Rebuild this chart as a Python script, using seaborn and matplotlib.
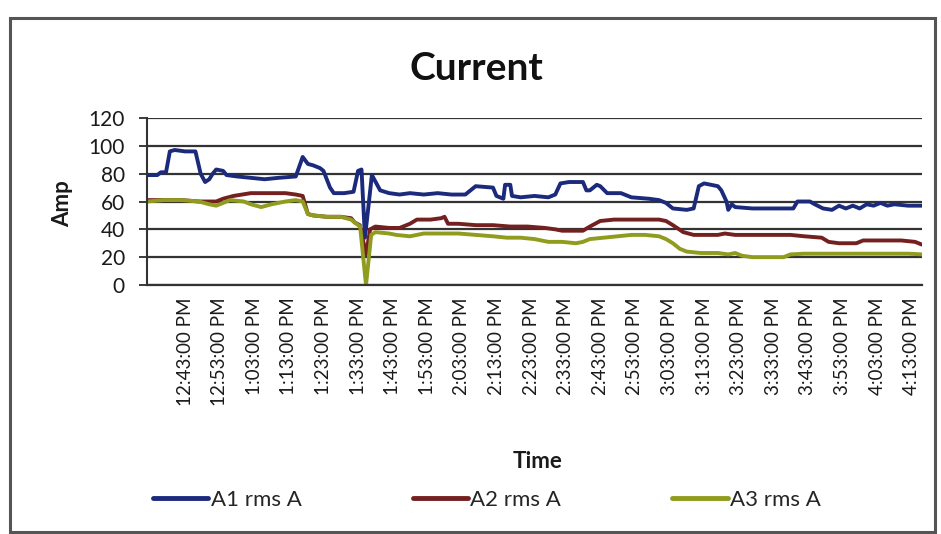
import pandas as pd
import matplotlib
matplotlib.use("Agg")
import matplotlib.pyplot as plt
import seaborn as sns
from matplotlib.patches import Rectangle

# minutes after 12:32 PM
a1_min = [0, 3, 4, 5.5, 6.6, 8, 11, 14, 15.5, 16.8, 18, 19, 20, 22, 23, 26, 30, 34, 38, 43,
          45, 46.5, 48, 50, 51, 52.9, 54, 57, 59.7, 61, 62, 63, 65, 67.4, 70, 73, 76, 80, 84, 88,
          92, 94, 95, 100, 101, 103, 103.5, 105, 105.5, 108, 112, 116, 118, 119.5, 122, 126, 127, 128, 130, 131,
          133, 137, 140, 145, 148, 150, 152, 156, 158, 159.5, 161, 165, 166, 167.5, 168, 169, 170, 175, 180, 185,
          186.8, 188, 191.6, 193, 195.4, 198, 200, 202, 204, 206, 208, 210, 212, 214, 216, 220, 224]
a1_amp = [79, 79, 81, 81, 96, 97, 96, 96, 80, 74, 76, 80, 83, 82, 79, 78, 77, 76, 77, 78,
          92, 87, 86, 84, 82, 70, 66, 66, 67, 82, 83, 34, 79, 68, 66, 65, 66, 65, 66, 65,
          65, 69, 71, 70, 64, 62, 72, 72, 64, 63, 64, 63, 65, 73, 74, 74, 68, 68, 72, 71,
          66, 66, 63, 62, 61, 59, 55, 54, 55, 71, 73, 71, 68, 60, 54, 58, 56, 55, 55, 55,
          55, 60, 60, 58, 55, 54, 57, 55, 57, 55, 58, 57, 59, 57, 58, 57, 57]

a2_min = [0, 10, 15, 20, 22, 25, 30, 35, 40, 43, 45, 46.5, 48, 52, 56, 59, 60, 61.5, 63.3, 64.5,
          66, 70, 73, 76, 78, 82, 85, 86, 87, 90, 95, 100, 105, 110, 115, 118, 120, 126, 128, 131,
          135, 140, 145, 148, 150, 152, 155, 158, 165, 167, 170, 180, 186, 190, 195, 197, 200, 205, 207, 212,
          218, 222, 224]
a2_amp = [61, 61, 60, 60, 62, 64, 66, 66, 66, 65, 64, 51, 50, 49, 49, 48, 45, 43, 22, 40,
          42, 41, 41, 44, 47, 47, 48, 49, 44, 44, 43, 43, 42, 42, 41, 40, 39, 39, 42, 46,
          47, 47, 47, 47, 46, 43, 38, 36, 36, 37, 36, 36, 36, 35, 34, 31, 30, 30, 32, 32,
          32, 31, 29]

a3_min = [0, 5, 10, 15, 18, 20, 22, 24, 28, 30, 33, 36, 40, 43, 45, 46.5, 48, 52, 56, 59,
          60, 61.6, 63.3, 64.8, 66, 70, 72, 76, 80, 85, 90, 95, 100, 104, 108, 112, 116, 120, 124, 126,
          128, 132, 136, 140, 144, 148, 150, 152, 154, 156, 160, 165, 168, 170, 172, 175, 180, 184, 186, 190,
          200, 210, 220, 224]
a3_amp = [60, 61, 61, 60, 58, 57, 59, 61, 60, 58, 56, 58, 60, 61, 60, 51, 50, 49, 49, 47,
          45, 42, 0, 36, 38, 37, 36, 35, 37, 37, 37, 36, 35, 34, 34, 33, 31, 31, 30, 31,
          33, 34, 35, 36, 36, 35, 33, 30, 26, 24, 23, 23, 22, 23, 21, 20, 20, 20, 22, 22.5,
          22.5, 22.5, 22.5, 22]

series_names = ['A1 rms A', 'A2 rms A', 'A3 rms A']
series_colors = ['#1c2a7c', '#742020', '#909c1e']

tick_min = [11, 21, 31, 41, 51, 61, 71, 81, 91, 101, 111, 121, 131, 141, 151, 161, 171, 181, 191, 201, 211, 221]
tick_labels = ['12:43:00 PM', '12:53:00 PM', '1:03:00 PM', '1:13:00 PM', '1:23:00 PM', '1:33:00 PM',
               '1:43:00 PM', '1:53:00 PM', '2:03:00 PM', '2:13:00 PM', '2:23:00 PM', '2:33:00 PM',
               '2:43:00 PM', '2:53:00 PM', '3:03:00 PM', '3:13:00 PM', '3:23:00 PM', '3:33:00 PM',
               '3:43:00 PM', '3:53:00 PM', '4:03:00 PM', '4:13:00 PM']

sns.set_theme(style="white")
plt.rcParams['font.family'] = ['Lato', 'DejaVu Sans']

frames = []
for name, t, v in zip(series_names, [a1_min, a2_min, a3_min], [a1_amp, a2_amp, a3_amp]):
    frames.append(pd.DataFrame({'Time': t, 'Amp': v, 'Series': name}))
df = pd.concat(frames, ignore_index=True)

fig = plt.figure(figsize=(9.41, 5.34), dpi=100)
fig.patch.set_facecolor('white')
# chart frame
fig.add_artist(Rectangle((10 / 941, 1 - 532 / 534), 925 / 941, 514 / 534, transform=fig.transFigure,
                         fill=False, edgecolor='#555555', linewidth=2.2))

ax = fig.add_axes([147 / 941, 1 - 285 / 534, (922 - 147) / 941, (285 - 118) / 534])
ax.yaxis.grid(True, color='#333333', linewidth=1.6)
ax.set_axisbelow(True)
sns.lineplot(data=df, x='Time', y='Amp', hue='Series', hue_order=series_names,
             palette=series_colors, linewidth=2.8, estimator=None, sort=False, ax=ax)

ax.set_xlim(0, 224)
ax.set_ylim(0, 120)
ax.set_yticks(range(0, 121, 20))
ax.set_xticks(tick_min)
ax.set_xticklabels(tick_labels, rotation=90, fontsize=13.5, color='#1a1a1a')
ax.tick_params(axis='y', labelsize=15, colors='#1a1a1a', length=6, width=1.2, direction='out',
               left=True, pad=10)
ax.tick_params(axis='x', length=0, pad=9)
for side in ['top', 'right']:
    ax.spines[side].set_visible(False)
ax.spines['left'].set_color('#333333')
ax.spines['left'].set_linewidth(1.5)
ax.spines['bottom'].set_color('#333333')
ax.spines['bottom'].set_linewidth(1.6)

ax.set_xlabel('Time', fontsize=16, fontweight='bold', color='#1a1a1a')
ax.set_ylabel('Amp', fontsize=16, fontweight='bold', color='#1a1a1a')
ax.xaxis.set_label_coords((538 - 147) / (922 - 147), -(462 - 285) / (285 - 118))
ax.yaxis.set_label_coords(-(147 - 63) / (922 - 147), (285 - 204) / (285 - 118))
ax.xaxis.label.set_va('center')
ax.yaxis.label.set_va('center')

fig.text(476 / 941, 1 - 68 / 534, 'Current', ha='center', va='center', fontsize=28,
         fontweight='bold', color='#111111')

handles, labels = ax.get_legend_handles_labels()
ax.get_legend().remove()
leg = fig.legend(handles, labels, loc='center', bbox_to_anchor=(487 / 941, 1 - 500 / 534), ncol=3,
                 frameon=False, fontsize=16, handlelength=2.5, handletextpad=0.1, columnspacing=5.0)
for line in leg.get_lines():
    line.set_linewidth(3.5)

fig.savefig('out.png', dpi=100)
